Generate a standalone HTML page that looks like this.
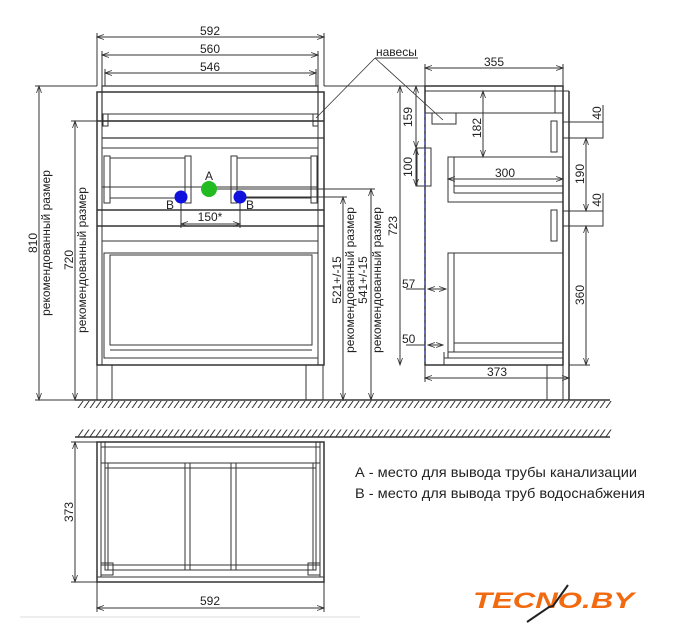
<!DOCTYPE html>
<html><head><meta charset="utf-8"><style>
html,body{margin:0;padding:0;background:#fff;width:674px;height:640px;overflow:hidden}
svg{display:block}
text{font-family:"Liberation Sans",sans-serif;fill:#222}
</style></head><body>
<svg width="674" height="640" viewBox="0 0 674 640" xmlns="http://www.w3.org/2000/svg">
<defs>
<marker id="a" markerWidth="8" markerHeight="6" refX="7" refY="3" orient="auto-start-reverse" markerUnits="userSpaceOnUse"><path d="M0,0.5 L7,3 L0,5.5" fill="none" stroke="#333" stroke-width="0.8"/></marker>
</defs>
<g stroke="#333" stroke-width="7" stroke-dasharray="1.2,4.8">
<line x1="80" y1="0" x2="612" y2="0" transform="translate(0,404.5) skewX(-35)"/>
<line x1="80" y1="0" x2="612" y2="0" transform="translate(0,433) skewX(-35)"/>
</g>
<g stroke="#333" fill="none" stroke-width="1">
<line x1="75" y1="400" x2="610" y2="400" stroke-width="1.5"/>
<line x1="75" y1="437" x2="610" y2="437" stroke-width="1.5"/>

<rect x="97" y="92" width="227" height="273" stroke-width="1.5"/>
<rect x="102" y="86" width="216" height="35" stroke-width="1.2"/>
<line x1="97" y1="121" x2="324" y2="121" stroke-width="1.5"/>
<line x1="102" y1="138" x2="324" y2="138" stroke-width="1.2"/>
<line x1="102" y1="114" x2="318" y2="114"/>
<rect x="103" y="114" width="5" height="12"/><rect x="313" y="114" width="5" height="12"/>
<line x1="102" y1="92" x2="102" y2="365"/><line x1="318" y1="92" x2="318" y2="365"/>
<line x1="102" y1="148" x2="318" y2="148"/>
<rect x="104" y="156" width="6" height="47"/><rect x="185" y="156" width="6" height="47"/>
<line x1="110" y1="158" x2="185" y2="158"/><line x1="110" y1="198" x2="185" y2="198"/>
<rect x="231" y="156" width="6" height="47"/><rect x="311" y="156" width="6" height="47"/>
<line x1="237" y1="158" x2="311" y2="158"/><line x1="237" y1="198" x2="311" y2="198"/>
<line x1="102" y1="187" x2="318" y2="187"/>
<line x1="97" y1="210" x2="324" y2="210" stroke-width="1.5"/>
<line x1="97" y1="226" x2="324" y2="226" stroke-width="1.5"/>
<line x1="102" y1="241" x2="318" y2="241"/>
<rect x="104" y="253" width="214" height="105"/>
<rect x="110" y="255" width="202" height="90"/>
<line x1="110" y1="350" x2="312" y2="350"/>
<line x1="97" y1="365" x2="97" y2="400"/><line x1="112" y1="365" x2="112" y2="400"/>
<line x1="306" y1="365" x2="306" y2="400"/><line x1="323" y1="365" x2="323" y2="400"/>

<line x1="97" y1="33" x2="97" y2="86"/><line x1="324" y1="33" x2="324" y2="86"/>
<line x1="97" y1="37" x2="324" y2="37" marker-start="url(#a)" marker-end="url(#a)"/>
<line x1="102" y1="51" x2="102" y2="86"/><line x1="318" y1="51" x2="318" y2="86"/>
<line x1="102" y1="55" x2="318" y2="55" marker-start="url(#a)" marker-end="url(#a)"/>
<line x1="105" y1="69" x2="105" y2="86"/><line x1="316" y1="69" x2="316" y2="86"/>
<line x1="105" y1="73" x2="316" y2="73" marker-start="url(#a)" marker-end="url(#a)"/>
<line x1="35" y1="86" x2="97" y2="86"/><line x1="35" y1="400" x2="75" y2="400"/>
<line x1="39" y1="86" x2="39" y2="400" marker-start="url(#a)" marker-end="url(#a)"/>
<line x1="71" y1="121" x2="102" y2="121"/>
<line x1="75" y1="121" x2="75" y2="400" marker-start="url(#a)" marker-end="url(#a)"/>
<line x1="240" y1="197" x2="347" y2="197"/>
<line x1="343" y1="197" x2="343" y2="400" marker-start="url(#a)" marker-end="url(#a)"/>
<line x1="209" y1="189" x2="375" y2="189"/>
<line x1="371" y1="189" x2="371" y2="400" marker-start="url(#a)" marker-end="url(#a)"/>
<line x1="324" y1="86" x2="425" y2="86"/>
<line x1="400" y1="86" x2="400" y2="365" marker-start="url(#a)" marker-end="url(#a)"/>
<line x1="181" y1="197" x2="181" y2="228"/><line x1="240" y1="197" x2="240" y2="228"/>
<line x1="181" y1="224" x2="240" y2="224" marker-start="url(#a)" marker-end="url(#a)"/>
<line x1="375" y1="58" x2="418" y2="58"/>
<line x1="375" y1="58" x2="316" y2="118" stroke-width="0.8"/>
<line x1="375" y1="58" x2="443" y2="120" stroke-width="0.8"/>

<rect x="425" y="86" width="138" height="279" stroke-width="1.5"/>
<line x1="425" y1="91" x2="569" y2="91"/>
<line x1="569" y1="91" x2="569" y2="400" stroke-width="1.5"/>
<line x1="555" y1="86" x2="555" y2="113"/>
<line x1="425" y1="113" x2="563" y2="113"/>
<rect x="432" y="113" width="24" height="11"/>
<rect x="417" y="148" width="14" height="38"/>
<rect x="448" y="157" width="115" height="45"/>
<line x1="454" y1="157" x2="454" y2="193"/><line x1="454" y1="193" x2="563" y2="193"/><line x1="454" y1="186" x2="563" y2="186"/>
<rect x="551" y="121" width="6" height="31"/>
<rect x="551" y="210" width="6" height="31"/>
<rect x="563" y="122" width="40" height="16"/>
<rect x="563" y="211" width="40" height="15"/>
<rect x="448" y="253" width="115" height="105"/>
<line x1="454" y1="253" x2="454" y2="352"/><line x1="454" y1="343" x2="563" y2="343"/><line x1="448" y1="352" x2="563" y2="352"/>
<line x1="444" y1="352" x2="444" y2="365"/><line x1="444" y1="358" x2="563" y2="358"/>
<line x1="547" y1="365" x2="547" y2="400"/><line x1="563" y1="365" x2="563" y2="400"/>
<line x1="425" y1="113" x2="425" y2="365" stroke="#3344cc" stroke-dasharray="4,3"/>
<line x1="425" y1="64" x2="425" y2="86"/><line x1="563" y1="64" x2="563" y2="86"/>
<line x1="425" y1="68" x2="563" y2="68" marker-start="url(#a)" marker-end="url(#a)"/>
<line x1="425" y1="365" x2="425" y2="382"/><line x1="569" y1="365" x2="569" y2="382"/>
<line x1="425" y1="378" x2="569" y2="378" marker-start="url(#a)" marker-end="url(#a)"/>
<line x1="416" y1="86" x2="416" y2="148" marker-start="url(#a)" marker-end="url(#a)"/>
<line x1="416" y1="148" x2="416" y2="186" marker-start="url(#a)" marker-end="url(#a)"/>
<line x1="483" y1="91" x2="483" y2="157" marker-start="url(#a)" marker-end="url(#a)"/>
<line x1="448" y1="179" x2="563" y2="179" marker-start="url(#a)" marker-end="url(#a)"/>
<line x1="586" y1="138" x2="586" y2="211" marker-start="url(#a)" marker-end="url(#a)"/>
<line x1="586" y1="226" x2="586" y2="365" marker-start="url(#a)" marker-end="url(#a)"/>
<line x1="569" y1="365" x2="590" y2="365"/>
<line x1="603" y1="105" x2="603" y2="138"/><line x1="603" y1="193" x2="603" y2="226"/>
<line x1="406" y1="289" x2="425" y2="289"/><line x1="428" y1="289" x2="446" y2="289" marker-start="url(#a)" marker-end="url(#a)"/>
<line x1="406" y1="345" x2="425" y2="345"/><line x1="428" y1="345" x2="443" y2="345" marker-start="url(#a)" marker-end="url(#a)"/>

<rect x="97" y="442" width="227" height="140" stroke-width="1.5"/>
<line x1="97" y1="577" x2="324" y2="577"/>
<line x1="101" y1="442" x2="101" y2="577"/><line x1="320" y1="442" x2="320" y2="577"/>
<line x1="105" y1="442" x2="105" y2="570"/><line x1="316" y1="442" x2="316" y2="570"/>
<line x1="101" y1="447" x2="320" y2="447"/>
<line x1="101" y1="463" x2="320" y2="463"/>
<rect x="105" y="463" width="211" height="107"/>
<line x1="105" y1="468" x2="316" y2="468"/>
<line x1="108" y1="463" x2="108" y2="570"/><line x1="313" y1="463" x2="313" y2="570"/>
<line x1="185" y1="463" x2="185" y2="570"/><line x1="190" y1="463" x2="190" y2="570"/>
<line x1="231" y1="463" x2="231" y2="570"/><line x1="236" y1="463" x2="236" y2="570"/>
<line x1="101" y1="565" x2="320" y2="565"/>
<rect x="101" y="563" width="12" height="12"/><rect x="308" y="563" width="12" height="12"/>
<line x1="71" y1="442" x2="97" y2="442"/><line x1="71" y1="582" x2="97" y2="582"/>
<line x1="75" y1="442" x2="75" y2="582" marker-start="url(#a)" marker-end="url(#a)"/>
<line x1="97" y1="582" x2="97" y2="612"/><line x1="324" y1="582" x2="324" y2="612"/>
<line x1="97" y1="608" x2="324" y2="608" marker-start="url(#a)" marker-end="url(#a)"/>
<line x1="20" y1="617" x2="360" y2="617" stroke="#eee" stroke-width="2"/>
</g>
<circle cx="209" cy="189" r="8" fill="#22bb22"/>
<circle cx="181" cy="197" r="6.5" fill="#1111dd"/>
<circle cx="240" cy="197" r="6.5" fill="#1111dd"/>
<g font-size="12">
<text x="210" y="35" text-anchor="middle">592</text>
<text x="210" y="53" text-anchor="middle">560</text>
<text x="210" y="71" text-anchor="middle">546</text>
<text x="209" y="180" text-anchor="middle">A</text>
<text x="166" y="209">B</text>
<text x="246" y="209">B</text>
<text x="210" y="221" text-anchor="middle">150*</text>
<text x="376" y="56">навесы</text>
<text x="494" y="66" text-anchor="middle">355</text>
<text x="497" y="376" text-anchor="middle">373</text>
<text x="210" y="605" text-anchor="middle">592</text>
<text x="505" y="177" text-anchor="middle">300</text>
<text x="402" y="288">57</text>
<text x="402" y="343">50</text>
<text transform="translate(37,243) rotate(-90)" text-anchor="middle">810</text>
<text transform="translate(50,243) rotate(-90)" text-anchor="middle">рекомендованный размер</text>
<text transform="translate(73,260) rotate(-90)" text-anchor="middle">720</text>
<text transform="translate(86,260) rotate(-90)" text-anchor="middle">рекомендованный размер</text>
<text transform="translate(341,280) rotate(-90)" text-anchor="middle">521+/-15</text>
<text transform="translate(354,280) rotate(-90)" text-anchor="middle">рекомендованный размер</text>
<text transform="translate(367,280) rotate(-90)" text-anchor="middle">541+/-15</text>
<text transform="translate(381,280) rotate(-90)" text-anchor="middle">рекомендованный размер</text>
<text transform="translate(397,226) rotate(-90)" text-anchor="middle">723</text>
<text transform="translate(412,117) rotate(-90)" text-anchor="middle">159</text>
<text transform="translate(412,167) rotate(-90)" text-anchor="middle">100</text>
<text transform="translate(481,128) rotate(-90)" text-anchor="middle">182</text>
<text transform="translate(601,113) rotate(-90)" text-anchor="middle">40</text>
<text transform="translate(584,174) rotate(-90)" text-anchor="middle">190</text>
<text transform="translate(601,200) rotate(-90)" text-anchor="middle">40</text>
<text transform="translate(584,295) rotate(-90)" text-anchor="middle">360</text>
<text transform="translate(73,512) rotate(-90)" text-anchor="middle">373</text>
</g>
<g font-size="14">
<text x="355" y="477" textLength="282" lengthAdjust="spacingAndGlyphs">А - место для вывода трубы канализации</text>
<text x="355" y="498" textLength="290" lengthAdjust="spacingAndGlyphs">В - место для вывода труб водоснабжения</text>
</g>
<text x="473" y="608" font-size="22" font-weight="bold" font-style="italic" style="fill:#f26a10" textLength="161" lengthAdjust="spacingAndGlyphs">TECNO.BY</text>
<path d="M568,585 L553,606 L549,607 L527,622" fill="none" stroke="#222" stroke-width="2"/>
</svg>
</body></html>
